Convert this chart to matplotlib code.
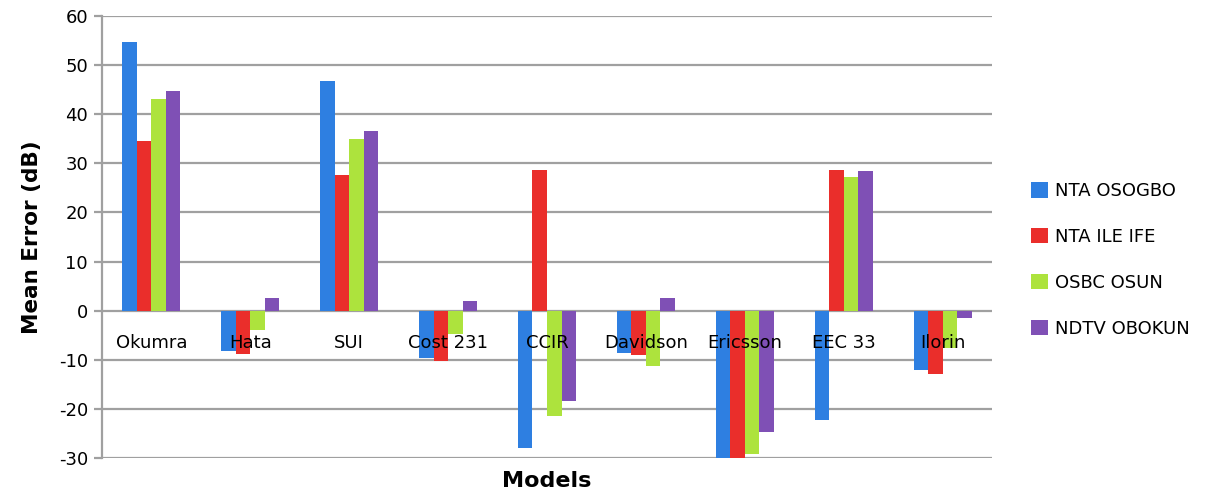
import numpy as np
import matplotlib
matplotlib.use("Agg")
import matplotlib.pyplot as plt


models = ["Okumra", "Hata", "SUI", "Cost 231", "CCIR", "Davidson", "Ericsson", "EEC 33", "Ilorin"]

nta_osogbo = [54.8, -8.3, 46.7, -9.6, -27.9, -8.6, -30.3, -22.3, -12.1]
nta_ile_ife = [34.5, -8.8, 27.6, -10.3, 28.7, -9.1, -30.3, 28.7, -12.9]
osbc_osun = [43.1, -4.0, 35.0, -4.8, -21.5, -11.3, -29.1, 27.2, -7.5]
ndtv_obokun = [44.7, 2.6, 36.6, 1.9, -18.4, 2.6, -24.7, 28.5, -1.5]

series_names = ["NTA OSOGBO", "NTA ILE IFE", "OSBC OSUN", "NDTV OBOKUN"]
colors = ["#2E7FE1", "#EA2E2B", "#ADE33D", "#7F50B5"]

plt.rcParams["font.family"] = "DejaVu Sans"
plt.rcParams["axes.unicode_minus"] = False

fig = plt.figure(figsize=(12.11, 4.96), dpi=100)
ax = fig.add_axes([0.0842, 0.0766, 0.7350, 0.8911])

x = np.arange(len(models))
width = 0.147
all_series = [nta_osogbo, nta_ile_ife, osbc_osun, ndtv_obokun]
for i, (vals, name, c) in enumerate(zip(all_series, series_names, colors)):
    ax.bar(x + (i - 1.5) * width, vals, width, color=c, label=name, zorder=2)

ax.set_xlim(-0.5, len(models) - 0.5)
ax.set_ylim(-30, 60)
ax.set_yticks(range(-30, 61, 10))
ax.yaxis.grid(True, color="#A0A0A0", linewidth=1.6, zorder=0)
ax.set_axisbelow(True)

for side in ["top", "right", "bottom"]:
    ax.spines[side].set_visible(False)
ax.spines["left"].set_color("#A0A0A0")
ax.spines["left"].set_linewidth(1.6)
ax.tick_params(axis="y", color="#A0A0A0", width=1.6, length=6, labelsize=13, pad=4)
ax.tick_params(axis="x", length=0, labelbottom=False)

# model names sit just under the zero line, on top of the bars
for xi, name in zip(x, models):
    ax.annotate(name, (xi, 0), xytext=(0, -23), textcoords="offset points",
                ha="center", va="center", fontsize=13, zorder=5)

ax.set_ylabel("Mean Error (dB)", fontsize=15.5, fontweight="bold", labelpad=12)
ax.set_xlabel("Models", fontsize=16, fontweight="bold", labelpad=9)

ax.legend(loc="center left", bbox_to_anchor=(0.838, 0.476), bbox_transform=fig.transFigure,
          frameon=False, fontsize=13, handlelength=0.95, handleheight=0.95,
          handletextpad=0.4, labelspacing=1.55)

fig.savefig("out.png", dpi=100)
